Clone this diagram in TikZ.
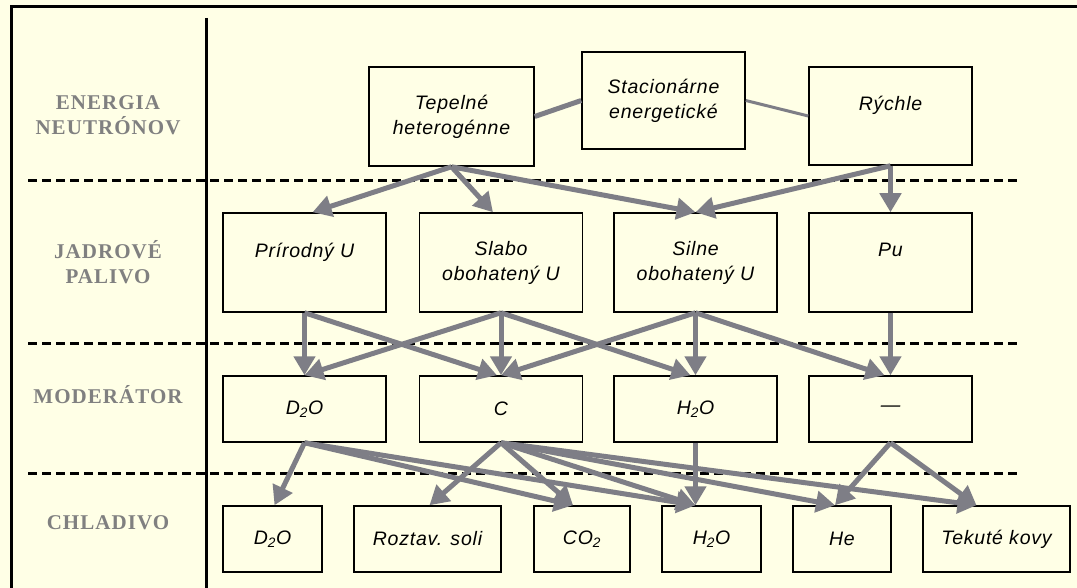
\documentclass[tikz,border=0pt]{standalone}
\usepackage{fontspec}
\setmainfont{Liberation Sans}[LetterSpace=4]
\newfontfamily\hlavicka{Liberation Serif}[LetterSpace=5]
\usetikzlibrary{arrows.meta}

\definecolor{podklad}{RGB}{255,255,230}
\definecolor{sipka}{RGB}{126,126,134}
\definecolor{nadpis}{RGB}{128,128,128}

\tikzset{
  box/.style={draw=black, line width=1.5pt, fill=podklad, inner sep=0pt,
    align=center, font=\fontsize{19.5}{25}\selectfont\itshape},
  rad/.style={text=nadpis, align=center,
    font=\hlavicka\bfseries\fontsize{21}{25}\selectfont},
  sip/.style={draw=sipka, line width=5pt, -{Triangle[length=19pt,width=21pt]}},
  spoj/.style={draw=sipka, line width=5pt},
}

\begin{document}
\begin{tikzpicture}[x=1pt,y=-1pt]

% Podklad a ramik
	\fill[podklad] (0,0) rectangle (1077,588);
	\useasboundingbox (0,0) rectangle (1077,588);
	\draw[line width=3pt] (11,588) -- (11,7) -- (1077,7);
	\draw[line width=3pt] (206,18) -- (206,588);

	\foreach \y in {181, 343, 473}
		\draw[line width=3pt, dash pattern=on 9pt off 5pt] (28,\y) -- (1020,\y);

% Popisy riadkov
	\node[rad] (energia) at (108,115) {ENERGIA\\NEUTRÓNOV};
	\node[rad] (palivo) at (108,262) {JADROVÉ\\PALIVO};
	\node[rad] (moderator) at (108,395) {MODERÁTOR};
	\node[rad] (chladivo) at (108,523) {CHLADIVO};

% Typy reaktorov
	\node[box, minimum width=165pt, minimum height=99pt] (tep) at (451.5,116.5) {Tepelné\\heterogénne};
	\node[box, minimum width=163pt, minimum height=97pt] (stac) at (663.5,100.5) {Stacionárne\\energetické};
	\node[box, minimum width=163pt, minimum height=98pt] (rych) at (890.5,116) {Rýchle\\\mbox{}};

% Palivo
	\foreach \n/\x/\t in {prir/304.5/Prírodný U\\\mbox{}, slab/501/Slabo\\obohatený U,
		siln/695.5/Silne\\obohatený U, pu/890.5/Pu\\\mbox{}}
		\node[box, minimum width=163pt, minimum height=99pt] (\n) at (\x,262.5) {\t};

% Moderator
	\foreach \n/\x/\t in {d2o/304.5/D\textsubscript{2}O, c/501/C, h2o/695.5/H\textsubscript{2}O, nic/890.5/—}
		\node[box, minimum width=163pt, minimum height=66pt] (\n) at (\x,409) {\t};

% Chladivo
	\node[box, minimum width=99pt, minimum height=66pt] (d2oc) at (272.5,539) {D\textsubscript{2}O};
	\node[box, minimum width=147pt, minimum height=66pt] (roz) at (427.5,539) {Roztav. soli};
	\node[box, minimum width=96pt, minimum height=66pt] (co2) at (582,539) {CO\textsubscript{2}};
	\node[box, minimum width=99pt, minimum height=66pt] (h2oc) at (711.5,539) {H\textsubscript{2}O};
	\node[box, minimum width=98pt, minimum height=66pt] (he) at (842,539) {He};
	\node[box, minimum width=147pt, minimum height=66pt] (tek) at (996.5,539) {Tekuté kovy};

% Spojenia
	\draw[spoj] (tep.east) -- (stac.west);
	\draw[spoj, line width=3pt] (stac.east) -- (rych.west);

	\foreach \a/\b/\s in {tep/prir/8, tep/slab/-8, tep/siln/0, rych/siln/0, rych/pu/0,
		prir/d2o/0, prir/c/-4, slab/d2o/0, slab/c/0, slab/h2o/-5,
		siln/c/0, siln/h2o/0, siln/nic/-6, pu/nic/0,
		d2o/d2oc/2, d2o/co2/-9, d2o/h2oc/-16, c/roz/2, c/co2/-9, c/h2oc/-16,
		c/he/-7, c/tek/-20, h2o/h2oc/-16, nic/he/-7, nic/tek/-20}
		\draw[sip] (\a.south) -- ([xshift=\s pt]\b.north);

\end{tikzpicture}
\end{document}
